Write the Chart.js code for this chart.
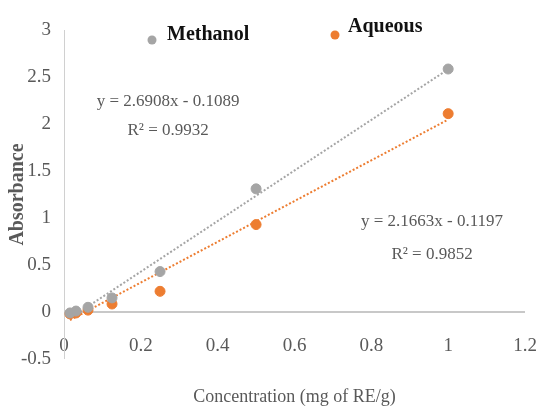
<!DOCTYPE html>
<html>
<head>
<meta charset="utf-8">
<script src="https://cdn.jsdelivr.net/npm/chart.js@4/dist/chart.umd.min.js"></script>
<style>
  html, body { margin: 0; padding: 0; background: #fff; }
  #wrap { width: 538px; height: 411px; position: relative; }
</style>
</head>
<body>
<div id="wrap"><canvas id="c"></canvas></div>
<script>
// ---- data ----
const concentrations = [0.0156, 0.03125, 0.0625, 0.125, 0.25, 0.5, 1];
const methanolValues = [-0.01, 0.01, 0.05, 0.15, 0.43, 1.31, 2.585];
const aqueousValues  = [-0.02, -0.01, 0.02, 0.085, 0.22, 0.93, 2.11];
const trendX         = [0.0156, 1];
const methanolTrend  = [-0.067, 2.582];
const aqueousTrend   = [-0.086, 2.047];
const seriesNames    = ['Methanol', 'Aqueous'];
const methanolEq     = ['y = 2.6908x - 0.1089', 'R\u00B2 = 0.9932'];
const aqueousEq      = ['y = 2.1663x - 0.1197', 'R\u00B2 = 0.9852'];
const xTitle = 'Concentration (mg of RE/g)';
const yTitle = 'Absorbance';

const GRAY = '#a5a5a5';
const ORANGE = '#ed7d31';
const SERIF = '"Liberation Serif", "Times New Roman", serif';

const toXY = (xs, ys) => xs.map((x, i) => ({ x: x, y: ys[i] }));

const annotPlugin = {
  id: 'annot',
  afterDatasetsDraw(chart) {
    const ctx = chart.ctx;
    const xs = chart.scales.x, ys = chart.scales.y;
    ctx.save();
    // equations
    ctx.fillStyle = '#595959';
    ctx.font = '17px ' + SERIF;
    ctx.textAlign = 'center';
    ctx.textBaseline = 'middle';
    ctx.fillText(methanolEq[0], xs.getPixelForValue(0.271), ys.getPixelForValue(2.24));
    ctx.fillText(methanolEq[1], xs.getPixelForValue(0.271), ys.getPixelForValue(1.93));
    ctx.fillText(aqueousEq[0], xs.getPixelForValue(0.958), ys.getPixelForValue(0.96));
    ctx.fillText(aqueousEq[1], xs.getPixelForValue(0.958), ys.getPixelForValue(0.61));
    // legend
    const items = [
      { name: seriesNames[0], color: GRAY, mx: 152, my: 40, tx: 167, ty: 35 },
      { name: seriesNames[1], color: ORANGE, mx: 335, my: 35, tx: 348, ty: 27 }
    ];
    ctx.font = 'bold 20px ' + SERIF;
    ctx.textAlign = 'left';
    items.forEach(it => {
      ctx.fillStyle = it.color;
      ctx.beginPath();
      ctx.arc(it.mx, it.my, 4.5, 0, Math.PI * 2);
      ctx.fill();
      ctx.fillStyle = '#111';
      ctx.fillText(it.name, it.tx, it.ty);
    });
    ctx.restore();
  }
};

new Chart(document.getElementById('c'), {
  type: 'scatter',
  data: {
    datasets: [
      {
        label: seriesNames[0] + ' trend',
        data: toXY(trendX, methanolTrend),
        type: 'line',
        showLine: true,
        borderColor: GRAY,
        borderWidth: 2,
        borderDash: [2, 2],
        pointRadius: 0,
        fill: false,
        order: 3
      },
      {
        label: seriesNames[1] + ' trend',
        data: toXY(trendX, aqueousTrend),
        type: 'line',
        showLine: true,
        borderColor: ORANGE,
        borderWidth: 2,
        borderDash: [2, 2],
        pointRadius: 0,
        fill: false,
        order: 4
      },
      {
        label: seriesNames[1],
        data: toXY(concentrations, aqueousValues),
        backgroundColor: ORANGE,
        borderColor: ORANGE,
        pointRadius: 5,
        order: 2
      },
      {
        label: seriesNames[0],
        data: toXY(concentrations, methanolValues),
        backgroundColor: GRAY,
        borderColor: GRAY,
        pointRadius: 5,
        order: 1
      }
    ]
  },
  options: {
    responsive: true,
    maintainAspectRatio: false,
    animation: false,
    events: [],
    layout: { padding: { left: 0, top: 30, right: 13, bottom: 52 } },
    plugins: {
      legend: { display: false },
      tooltip: { enabled: false }
    },
    scales: {
      x: {
        type: 'linear',
        position: { y: -0.2 },
        min: 0,
        max: 1.2,
        ticks: {
          stepSize: 0.2,
          padding: 4,
          color: '#595959',
          font: { family: SERIF, size: 19 },
          callback: v => String(Math.round(v * 10) / 10)
        },
        grid: { display: false, drawTicks: false },
        border: { display: false },
        title: {
          display: true,
          text: xTitle,
          color: '#595959',
          font: { family: SERIF, size: 18 },
          padding: { top: 0, bottom: 3 }
        },
        afterFit(scale) { scale.height = 80; scale.paddingRight = 0; scale.paddingLeft = 0; }
      },
      y: {
        type: 'linear',
        min: -0.5,
        max: 3,
        ticks: {
          stepSize: 0.5,
          padding: 13,
          color: '#595959',
          font: { family: SERIF, size: 19 },
          callback: v => String(Math.round(v * 10) / 10)
        },
        grid: {
          drawTicks: false,
          color: c => (c.tick && c.tick.value === 0) ? '#c8c8c8' : 'rgba(0,0,0,0)',
          lineWidth: c => (c.tick && c.tick.value === 0) ? 2 : 0
        },
        border: { display: true, color: '#d0d0d0', width: 1 },
        title: {
          display: true,
          text: yTitle,
          color: '#595959',
          font: { family: SERIF, size: 20, weight: 'bold' },
          padding: { top: 6, bottom: 0 }
        },
        afterFit(scale) { scale.width = 64; }
      }
    }
  },
  plugins: [annotPlugin]
});
</script>
</body>
</html>
